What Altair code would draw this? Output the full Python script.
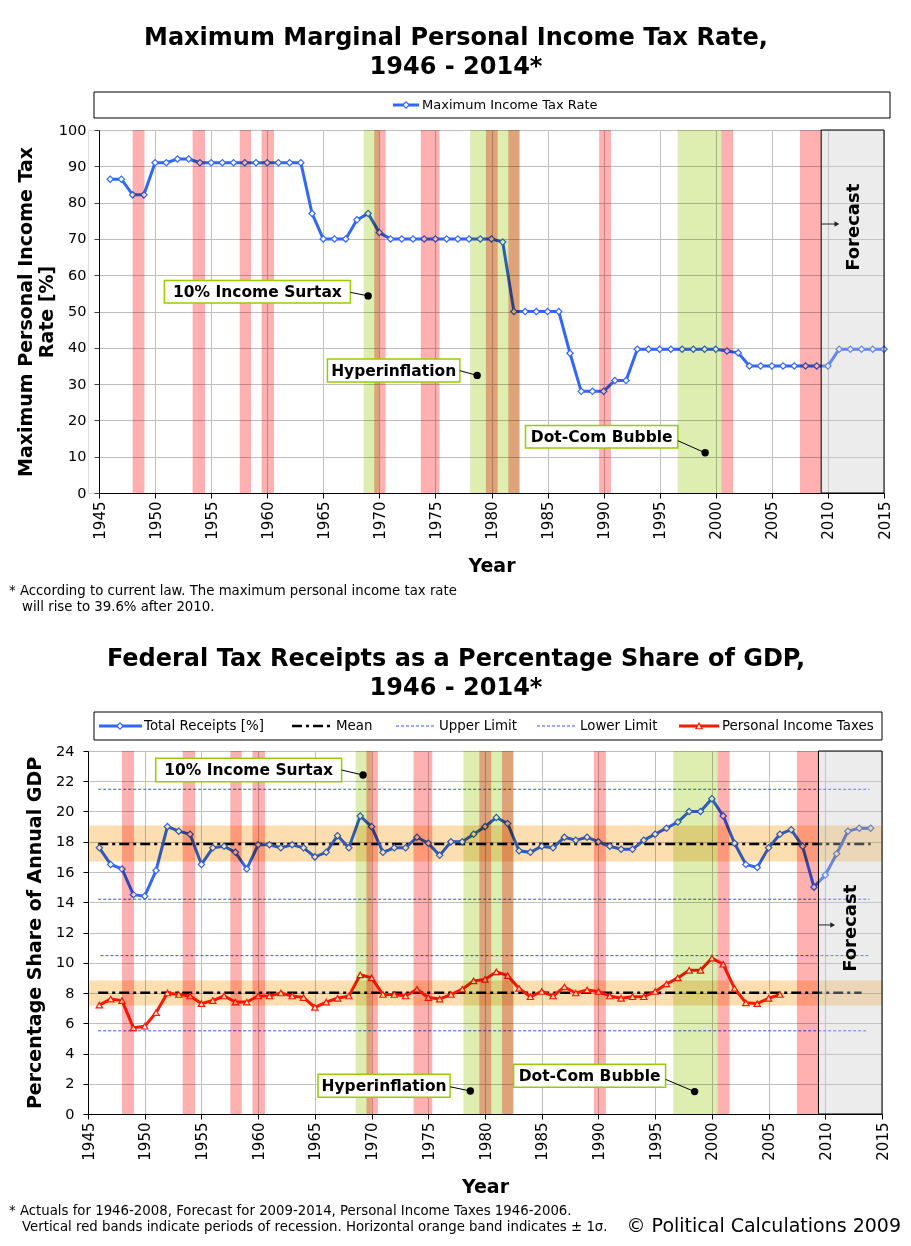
import altair as alt
import pandas as pd

FONT = "DejaVu Sans"
BLUE = "#3366FF"
RED = "#FF1A00"
RECESSION = "#FFB0B0"
EVENT = "#DEEDB0"
SIGMA = "#FDDEB0"
BOXLINE = "#99CC00"

# ---------------- data ----------------
top_years = list(range(1946, 2016))
top_rate = [86.45, 86.45, 82.13, 82.13, 91, 91, 92, 92, 91, 91,
            91, 91, 91, 91, 91, 91, 91, 91, 77, 70,
            70, 70, 75.25, 77, 71.75, 70, 70, 70, 70, 70,
            70, 70, 70, 70, 70, 69.13, 50, 50, 50, 50,
            50, 38.5, 28, 28, 28, 31, 31, 39.6, 39.6, 39.6,
            39.6, 39.6, 39.6, 39.6, 39.6, 39.1, 38.6, 35, 35, 35,
            35, 35, 35, 35, 35, 39.6, 39.6, 39.6, 39.6, 39.6]

rec_years = list(range(1946, 2015))
receipts = [17.6, 16.5, 16.2, 14.5, 14.4, 16.1, 19.0, 18.7, 18.5, 16.5,
            17.6, 17.7, 17.3, 16.2, 17.8, 17.8, 17.6, 17.8, 17.6, 17.0,
            17.3, 18.4, 17.6, 19.7, 19.0, 17.3, 17.6, 17.6, 18.3, 17.9,
            17.1, 18.0, 18.0, 18.5, 19.0, 19.6, 19.2, 17.4, 17.3, 17.7,
            17.6, 18.3, 18.1, 18.3, 18.0, 17.7, 17.5, 17.5, 18.1, 18.5,
            18.9, 19.3, 20.0, 20.0, 20.85, 19.7, 17.9, 16.5, 16.3, 17.6,
            18.5, 18.8, 17.7, 15.0, 15.8, 17.2, 18.7, 18.9, 18.9]

pit_years = list(range(1946, 2007))
pit = [7.2, 7.6, 7.5, 5.7, 5.8, 6.7, 8.0, 7.9, 7.8, 7.3,
       7.5, 7.8, 7.4, 7.4, 7.8, 7.8, 8.0, 7.8, 7.7, 7.05,
       7.4, 7.65, 7.8, 9.2, 9.0, 7.9, 7.9, 7.8, 8.25, 7.7,
       7.6, 7.9, 8.25, 8.8, 8.9, 9.4, 9.15, 8.3, 7.75, 8.1,
       7.8, 8.4, 8.0, 8.2, 8.1, 7.8, 7.65, 7.75, 7.75, 8.1,
       8.6, 9.0, 9.5, 9.5, 10.3, 9.9, 8.3, 7.35, 7.3, 7.65,
       7.9]

recession_start = [1948.0, 1953.35, 1957.55, 1959.5, 1969.55, 1973.7, 1979.5, 1981.5, 1989.6, 2000.5, 2007.5]
recession_end = [1949.05, 1954.45, 1958.55, 1960.6, 1970.55, 1975.35, 1980.55, 1982.5, 1990.65, 2001.55, 2009.4]
event_start = [1968.6, 1978.1, 1996.6]
event_end = [1970.0, 1982.5, 2000.5]
forecast_start = [2009.4]
forecast_end = [2015]

# mean / sigma band / limits (total receipts, personal income taxes)
mean_y = [17.85, 8.02]
mean_x1 = [1945.9, 1945.9]
mean_x2 = [2014.0, 2013.2]
sigma_lo = [16.7, 7.17]
sigma_hi = [19.07, 8.82]
limit_y = [21.47, 14.2, 10.47, 5.5]
limit_x1 = [1945.9, 1945.9, 1946.1, 1945.9]
limit_x2 = [2013.9, 2013.9, 2013.8, 2013.6]

ann_labels = ["10% Income Surtax", "Hyperinflation", "Dot-Com Bubble"]
top_box_x1 = [1950.83, 1965.37, 1983.03]
top_box_x2 = [1967.42, 1977.18, 1996.62]
top_box_y1 = [52.34, 30.58, 12.40]
top_box_y2 = [58.57, 36.91, 18.62]
top_lead_y = [55.27, 33.7, 14.4]
top_dot_x = [1969.0, 1978.72, 1999.05]
top_dot_y = [54.3, 32.4, 11.07]

bot_box_x1 = [1950.97, 1965.28, 1982.52]
bot_box_x2 = [1967.36, 1976.92, 1995.92]
bot_box_y1 = [21.97, 1.10, 1.77]
bot_box_y2 = [23.52, 2.62, 3.29]
bot_lead_y = [22.74, 1.80, 2.29]
bot_dot_x = [1969.25, 1978.71, 1998.48]
bot_dot_y = [22.41, 1.52, 1.48]

# ---------------- frames ----------------
top_df = pd.DataFrame({"year": top_years, "rate": top_rate})
rec_df = pd.DataFrame({"year": rec_years, "value": receipts})
pit_df = pd.DataFrame({"year": pit_years, "value": pit})
recess_df = pd.DataFrame({"s": recession_start, "e": recession_end})
event_df = pd.DataFrame({"s": event_start, "e": event_end})
fc_df = pd.DataFrame({"s": forecast_start, "e": forecast_end})
mean_df = pd.DataFrame({"x1": mean_x1, "x2": mean_x2, "y": mean_y})
sig_df = pd.DataFrame({"lo": sigma_lo, "hi": sigma_hi})
lim_df = pd.DataFrame({"x1": limit_x1, "x2": limit_x2, "y": limit_y})


def ann_frame(x1, x2, y1, y2, ly, dx, dy):
    return pd.DataFrame({
        "label": ann_labels, "x1": x1, "x2": x2, "y1": y1, "y2": y2,
        "tx": [(a + b) / 2 for a, b in zip(x1, x2)],
        "ty": [(a + b) / 2 for a, b in zip(y1, y2)],
        "ly": ly, "dx": dx, "dy": dy})


top_ann = ann_frame(top_box_x1, top_box_x2, top_box_y1, top_box_y2, top_lead_y, top_dot_x, top_dot_y)
bot_ann = ann_frame(bot_box_x1, bot_box_x2, bot_box_y1, bot_box_y2, bot_lead_y, bot_dot_x, bot_dot_y)
one = pd.DataFrame({"k": [0]})

H = 363


def px_text(txt, x, y, size=12, weight="normal", align="left", baseline="middle", lh=None):
    kw = dict(text=txt, fontSize=size, fontWeight=weight, align=align,
              baseline=baseline, font=FONT, color="black")
    if lh:
        kw["lineHeight"] = lh
    return alt.Chart(one).mark_text(**kw).encode(x=alt.value(x), y=alt.value(y))


def px_rule(x1, x2, y, color, width, dash=None):
    kw = dict(color=color, strokeWidth=width)
    if dash:
        kw["strokeDash"] = dash
    return alt.Chart(one).mark_rule(**kw).encode(x=alt.value(x1), x2=alt.value(x2), y=alt.value(y))


def px_symbol(x, y, shape, color):
    return alt.Chart(one).mark_point(shape=shape, fill="white", stroke=color, strokeWidth=1.2,
                                     size=40, opacity=1).encode(x=alt.value(x), y=alt.value(y))


def build(xs, ys, xaxis, yaxis, yfc, yarrow, fc_text_x, arrow_x2):
    def X(f):
        return alt.X(f"{f}:Q", scale=xs, axis=xaxis)

    def Y(f):
        return alt.Y(f"{f}:Q", scale=ys, axis=yaxis)

    layers = {}
    layers["rec"] = alt.Chart(recess_df).mark_rect(fill=RECESSION, blend="multiply").encode(
        x=X("s"), x2="e", y=alt.value(0), y2=alt.value(H))
    layers["evt"] = alt.Chart(event_df).mark_rect(fill=EVENT, blend="multiply").encode(
        x=X("s"), x2="e", y=alt.value(0), y2=alt.value(H))
    layers["fc"] = alt.Chart(fc_df).mark_rect(fill="#C8C8C8", fillOpacity=0.35, stroke="black",
                                              strokeWidth=1).encode(
        x=X("s"), x2="e", y=alt.value(0), y2=alt.value(H))
    layers["arrow"] = alt.Chart(one).mark_rule(color="#222222", strokeWidth=1).encode(
        x=alt.X(datum=2009.4, scale=xs, axis=xaxis), x2=alt.datum(arrow_x2 - 0.2),
        y=alt.Y(datum=yarrow, scale=ys, axis=yaxis))
    layers["head"] = alt.Chart(one).mark_point(shape="triangle-right", filled=True, color="#222222",
                                               size=30, opacity=1).encode(
        x=alt.X(datum=arrow_x2 - 0.25, scale=xs, axis=xaxis), y=alt.Y(datum=yarrow, scale=ys, axis=yaxis))
    layers["fctext"] = alt.Chart(one).mark_text(text="Forecast", angle=270, fontSize=18, fontWeight="bold",
                                                font=FONT, color="black", align="center",
                                                baseline="middle").encode(
        x=alt.X(datum=fc_text_x, scale=xs, axis=xaxis), y=alt.Y(datum=yfc, scale=ys, axis=yaxis))
    return X, Y, layers


def annotations(df, X, Y):
    box = alt.Chart(df).mark_rect(fill="white", stroke=BOXLINE, strokeWidth=1.5).encode(
        x=X("x1"), x2="x2", y=Y("y1"), y2="y2")
    txt = alt.Chart(df).mark_text(fontSize=15.5, fontWeight="bold", font=FONT, color="black").encode(
        x=X("tx"), y=Y("ty"), text="label:N")
    lead = alt.Chart(df).mark_rule(color="black", strokeWidth=1).encode(
        x=X("x2"), y=Y("ly"), x2="dx", y2="dy")
    dot = alt.Chart(df).mark_circle(color="black", size=55, opacity=1).encode(x=X("dx"), y=Y("dy"))
    return [box, lead, dot, txt]


# ---------------- top chart ----------------
TW = 796
top_xs = alt.Scale(domain=[1945, 2015], range=[11, TW], nice=False, zero=False)
top_ys = alt.Scale(domain=[0, 100], nice=False, zero=False)
xaxis_common = dict(values=list(range(1945, 2016, 5)), format="d", labelAngle=270, labelFontSize=15,
                    labelFont=FONT, labelColor="black", labelPadding=3, labelOverlap=False,
                    tickSize=5, tickColor="black", domainColor="black", gridColor="#C0C0C0",
                    title="Year", titleFont=FONT, titleFontSize=19, titleFontWeight="bold",
                    titleColor="black", titleY=72, titleBaseline="middle")
top_xaxis = alt.Axis(**xaxis_common)
top_yaxis = alt.Axis(values=list(range(0, 101, 10)), labelFontSize=14.5, labelFont=FONT, labelColor="black",
                     labelPadding=8, tickSize=5, tickColor="#404040", domainColor="black", offset=-11,
                     gridColor="#C0C0C0", title=["Maximum Personal Income Tax", "Rate [%]"],
                     titleFont=FONT, titleFontSize=19, titleFontWeight="bold", titleColor="black",
                     titleX=-74, titleBaseline="middle", titleLineHeight=21)

TX, TY, tl = build(top_xs, top_ys, top_xaxis, top_yaxis, 73.2, 74.1, 2012.3, 2011.05)

top_line = alt.Chart(top_df).mark_line(color=BLUE, strokeWidth=3).encode(x=TX("year"), y=TY("rate"))
top_pts = alt.Chart(top_df).mark_point(shape="diamond", fill="white", stroke=BLUE, strokeWidth=1.2,
                                       size=40, opacity=1).encode(x=TX("year"), y=TY("rate"))

top_legend = [
    alt.Chart(one).mark_rect(fill="white", stroke="black", strokeWidth=1).encode(
        x=alt.value(6), x2=alt.value(802), y=alt.value(-38), y2=alt.value(-12)),
    px_rule(305, 331, -25, BLUE, 3),
    px_symbol(318, -25, "diamond", BLUE),
    px_text("Maximum Income Tax Rate", 334, -25, size=13),
]
top_title = px_text(["Maximum Marginal Personal Income Tax Rate,", "1946 - 2014*"], 368, -85,
                    size=24, weight="bold", align="center", baseline="alphabetic", lh=29)
top_notes = [
    px_text("* According to current law.  The maximum personal income tax rate", -79, 465,
            size=13.3, baseline="alphabetic"),
    px_text("will rise to 39.6% after 2010.", -66, 481, size=13.3, baseline="alphabetic"),
]

top = alt.layer(
    top_line, top_pts, tl["evt"], tl["rec"], tl["fc"], tl["arrow"], tl["head"], tl["fctext"],
    *annotations(top_ann, TX, TY), *top_legend, top_title, *top_notes
).properties(width=TW, height=H)

# ---------------- bottom chart ----------------
BW = 794
bot_xs = alt.Scale(domain=[1945, 2015], nice=False, zero=False)
bot_ys = alt.Scale(domain=[0, 24], nice=False, zero=False)
bot_xaxis = alt.Axis(**xaxis_common)
bot_yaxis = alt.Axis(values=list(range(0, 25, 2)), labelFontSize=14.5, labelFont=FONT, labelColor="black",
                     labelPadding=9, tickSize=5, tickColor="black", domainColor="black",
                     gridColor="#C0C0C0", title="Percentage Share of Annual GDP",
                     titleFont=FONT, titleFontSize=19, titleFontWeight="bold", titleColor="black",
                     titleX=-54, titleBaseline="middle")

BX, BY, bl = build(bot_xs, bot_ys, bot_xaxis, bot_yaxis, 12.28, 12.5, 2012.29, 2010.9)

sig = alt.Chart(sig_df).mark_rect(fill=SIGMA, blend="multiply").encode(
    x=alt.X(datum=1945, scale=bot_xs, axis=bot_xaxis), x2=alt.datum(2015), y=BY("lo"), y2="hi")
means = alt.Chart(mean_df).mark_rule(color="black", strokeWidth=2.5, strokeDash=[10, 4, 3, 4]).encode(
    x=BX("x1"), x2="x2", y=BY("y"))
limits = alt.Chart(lim_df).mark_rule(color="#3355EE", strokeWidth=1, strokeDash=[3, 2]).encode(
    x=BX("x1"), x2="x2", y=BY("y"))
rec_line = alt.Chart(rec_df).mark_line(color=BLUE, strokeWidth=3).encode(x=BX("year"), y=BY("value"))
rec_pts = alt.Chart(rec_df).mark_point(shape="diamond", fill="white", stroke=BLUE, strokeWidth=1.2,
                                       size=40, opacity=1).encode(x=BX("year"), y=BY("value"))
pit_line = alt.Chart(pit_df).mark_line(color=RED, strokeWidth=3).encode(x=BX("year"), y=BY("value"))
pit_pts = alt.Chart(pit_df).mark_point(shape="triangle-up", fill="white", stroke=RED, strokeWidth=1.2,
                                       size=40, opacity=1).encode(x=BX("year"), y=BY("value"))

LY = -25
LS = 13.4
bot_legend = [
    alt.Chart(one).mark_rect(fill="white", stroke="black", strokeWidth=1).encode(
        x=alt.value(6), x2=alt.value(794), y=alt.value(-39), y2=alt.value(-11)),
    px_rule(11, 54, LY, BLUE, 3), px_symbol(32, LY, "diamond", BLUE),
    px_text("Total Receipts [%]", 56, LY, size=LS),
    px_rule(204, 245, LY, "black", 2.5, [10, 4, 3, 4]),
    px_text("Mean", 248, LY, size=LS),
    px_rule(308, 347, LY, "#3355EE", 1, [3, 2]),
    px_text("Upper Limit", 351, LY, size=LS),
    px_rule(449, 489, LY, "#3355EE", 1, [3, 2]),
    px_text("Lower Limit", 492, LY, size=LS),
    px_rule(591, 631, LY, RED, 3), px_symbol(611, LY, "triangle-up", RED),
    px_text("Personal Income Taxes", 634, LY, size=LS),
]
bot_title = px_text(["Federal Tax Receipts as a Percentage Share of GDP,", "1946 - 2014*"], 368, -85,
                    size=24, weight="bold", align="center", baseline="alphabetic", lh=29)
bot_notes = [
    px_text("* Actuals for 1946-2008, Forecast for 2009-2014, Personal Income Taxes 1946-2006.", -79, 464,
            size=13.3, baseline="alphabetic"),
    px_text("Vertical red bands indicate periods of recession.  Horizontal orange band indicates \u00b1 1\u03c3.",
            -66, 480, size=13.3, baseline="alphabetic"),
    px_text("\u00a9 Political Calculations 2009", 813, 481, size=19, align="right", baseline="alphabetic"),
]

bottom = alt.layer(
    means, limits, rec_line, rec_pts, pit_line, pit_pts, sig, bl["evt"], bl["rec"], bl["fc"],
    bl["arrow"], bl["head"], bl["fctext"], *annotations(bot_ann, BX, BY), *bot_legend, bot_title, *bot_notes
).properties(width=BW, height=H)

chart = alt.vconcat(top, bottom, spacing=32).properties(
    padding={"left": 0, "top": 17, "right": 0, "bottom": 0}
).configure_view(stroke=None).configure(font=FONT)

chart.save("out.html", embed_options={"renderer": "svg", "actions": False})
